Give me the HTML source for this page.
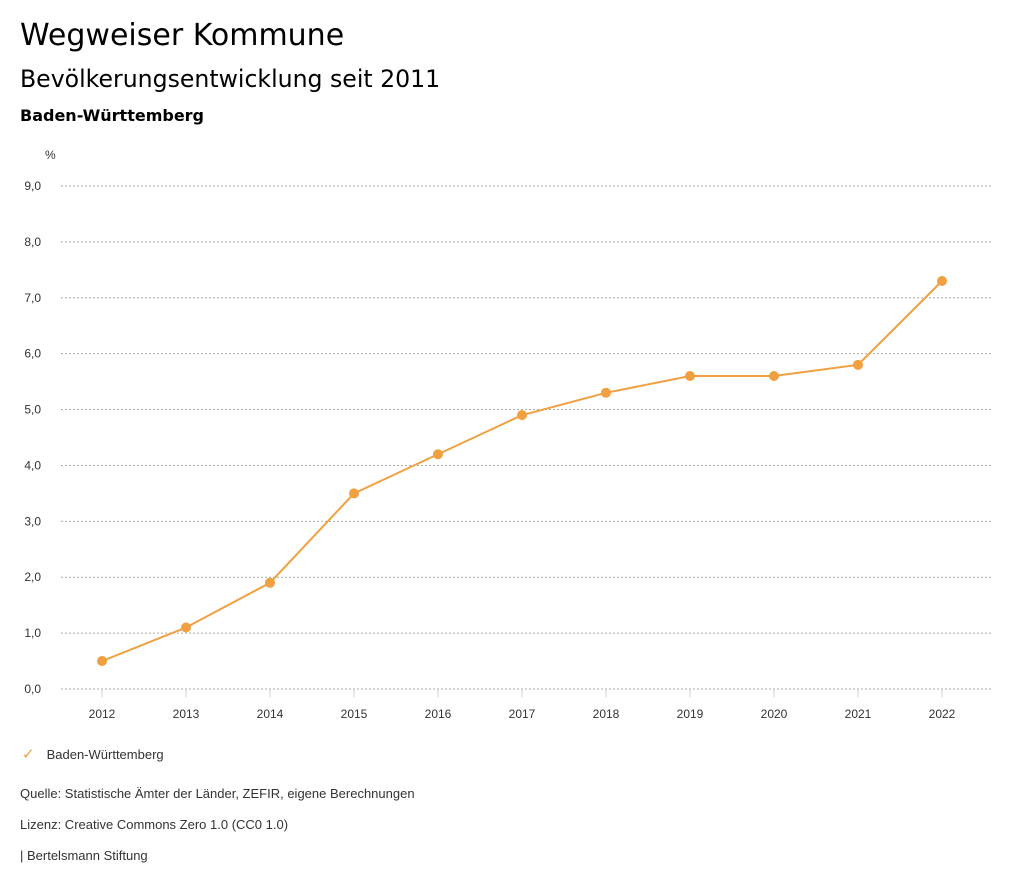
<!DOCTYPE html>
<html><head><meta charset="utf-8"><style>
body{margin:0;width:1024px;height:888px;background:#fff;font-family:"Liberation Sans","DejaVu Sans",sans-serif;color:#000;position:relative;overflow:hidden}
.t{position:absolute;white-space:nowrap}
.dj{font-family:"DejaVu Sans",sans-serif}
</style></head><body>
<div class="t dj" style="left:20px;top:18px;font-size:30px">Wegweiser Kommune</div>
<div class="t dj" style="left:20px;top:65px;font-size:23.6px">Bevölkerungsentwicklung seit 2011</div>
<div class="t dj" style="left:20px;top:106px;font-size:16px;font-weight:bold">Baden-Württemberg</div>
<svg id="chart" width="1024" height="888" style="position:absolute;left:0;top:0" font-family="Liberation Sans, DejaVu Sans, sans-serif"></svg>
<div class="t" style="left:22px;top:745px;font-size:13px;color:#333"><span style="color:#f0a040;font-size:15px;margin-right:12px">✓</span>Baden-Württemberg</div>
<div class="t" style="left:20px;top:786px;font-size:13px;color:#333">Quelle: Statistische Ämter der Länder, ZEFIR, eigene Berechnungen</div>
<div class="t" style="left:20px;top:817px;font-size:13px;color:#333">Lizenz: Creative Commons Zero 1.0 (CC0 1.0)</div>
<div class="t" style="left:20px;top:848px;font-size:13px;color:#333">| Bertelsmann Stiftung</div>
<script>
const years=[2012,2013,2014,2015,2016,2017,2018,2019,2020,2021,2022];
const values=[0.5,1.1,1.9,3.5,4.2,4.9,5.3,5.6,5.6,5.8,7.3];
const yTicks=[0,1,2,3,4,5,6,7,8,9];
const ns="http://www.w3.org/2000/svg";
const svg=document.getElementById('chart');
const x=i=>102+i*84;
const y=v=>689-v*(503/9);
function mk(t,a,p){const e=document.createElementNS(ns,t);for(const k in a)e.setAttribute(k,a[k]);(p||svg).appendChild(e);return e;}
const pct=mk('text',{x:45,y:159,'font-size':12,fill:'#333'});pct.textContent='%';


yTicks.forEach(v=>{
 const l=mk('line',{x1:61,x2:991,y1:y(v),y2:y(v),stroke:'#aaa','stroke-dasharray':'2,2','stroke-width':1});
 
 
 const t=mk('text',{x:41,y:y(v)+4,'text-anchor':'end','font-size':12,fill:'#333'});
 t.textContent=v.toFixed(1).replace('.',',');
 
 
});
years.forEach((yr,i)=>{
 const tk=mk('line',{x1:x(i),x2:x(i),y1:689,y2:697,stroke:'#ccc'});
 
 
 const t=mk('text',{x:x(i),y:718,'text-anchor':'middle','font-size':12,fill:'#333'});
 t.textContent=yr;
 
 
});
const pl=mk('polyline',{points:values.map((v,i)=>x(i)+','+y(v)).join(' '),fill:'none',stroke:'#f0a040','stroke-width':2});


values.forEach((v,i)=>{
 const c=mk('circle',{cx:x(i),cy:y(v),r:5,fill:'#f0a040'});
 
 
});
</script>
</body></html>
